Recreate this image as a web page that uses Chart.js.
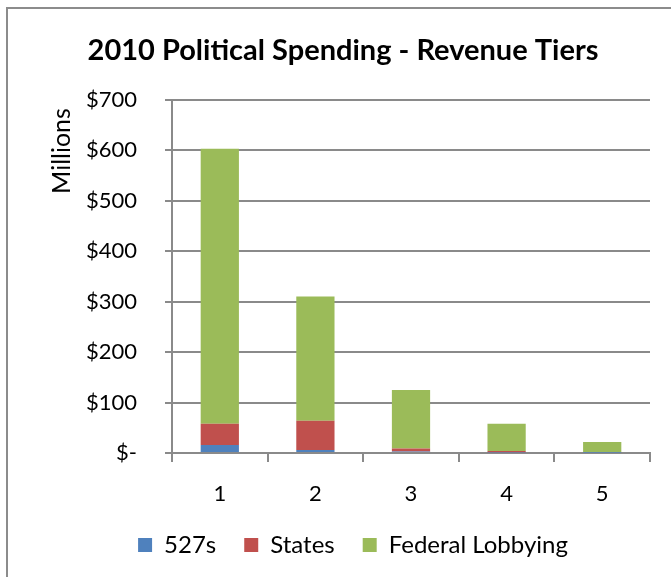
<!DOCTYPE html>
<html>
<head>
<meta charset="utf-8">
<script src="https://cdn.jsdelivr.net/npm/chart.js@4"></script>
<style>
  html, body { margin: 0; padding: 0; background: #fff; }
  #wrap { position: relative; width: 671px; height: 577px; overflow: hidden; }
  #frame { position: absolute; left: 6px; top: 7px; width: 700px; height: 600px;
           border-top: 2px solid #8c8c8c; border-left: 2px solid #8c8c8c; }
  canvas { position: absolute; left: 0; top: 0; }
</style>
</head>
<body>
<div id="wrap">
  <div id="frame"></div>
  <canvas id="chart" width="671" height="577"></canvas>
</div>
<script>
// --- data (millions of $) ---
const tiers = ["1", "2", "3", "4", "5"];
const spend527s = [16, 6, 3, 1, 0.4];
const spendStates = [42, 58, 6, 3, 0.6];
const spendFederal = [545, 246, 116, 54, 21];
const yTicks = [0, 100, 200, 300, 400, 500, 600, 700];

const FONT = "Lato, 'Open Sans', sans-serif";
const gridGray = "#8a8a8a";

function money(v) {
  return v === 0 ? "$-" : "$" + v;
}

// "Millions" display-unit label, placed near top like Excel
const unitLabel = {
  id: "unitLabel",
  afterDraw(chart) {
    const ctx = chart.ctx;
    ctx.save();
    ctx.translate(62, 151);
    ctx.rotate(-Math.PI / 2);
    ctx.font = "25px " + FONT;
    ctx.fillStyle = "#000";
    ctx.textAlign = "center";
    ctx.textBaseline = "middle";
    ctx.fillText("Millions", 0, 0);
    ctx.restore();
  }
};

// nudge title and legend sideways (Excel centres them differently)
const nudgeBoxes = {
  id: "nudgeBoxes",
  afterLayout(chart) {
    chart.titleBlock.left += 18;
    chart.titleBlock.right += 18;
    chart.legend.left += 28;
    chart.legend.right += 28;
  }
};

const ctx = document.getElementById("chart").getContext("2d");
new Chart(ctx, {
  type: "bar",
  data: {
    labels: tiers,
    datasets: [
      { label: "527s", data: spend527s, backgroundColor: "#4f81bd" },
      { label: "States", data: spendStates, backgroundColor: "#c0504d" },
      { label: "Federal Lobbying", data: spendFederal, backgroundColor: "#9bbb59" }
    ]
  },
  options: {
    responsive: false,
    animation: false,
    layout: { padding: { left: 0, right: 21, top: 0, bottom: 10 } },
    datasets: { bar: { categoryPercentage: 0.4, barPercentage: 1 } },
    scales: {
      x: {
        stacked: true,
        grid: { display: true, drawOnChartArea: false, offset: true,
                color: gridGray, lineWidth: 2, tickLength: 9 },
        border: { color: gridGray, width: 2 },
        ticks: { color: "#000", font: { family: FONT, size: 22 }, padding: 19 },
        afterFit(scale) { scale.height = 52; }
      },
      y: {
        stacked: true,
        min: 0,
        max: 700,
        afterBuildTicks(scale) { scale.ticks = yTicks.map(v => ({ value: v })); },
        grid: { color: gridGray, lineWidth: 2, tickLength: 7 },
        border: { color: gridGray, width: 2 },
        ticks: {
          color: "#000",
          font: { family: FONT, size: 22 },
          padding: 28,
          callback: v => money(v)
        },
        afterFit(scale) { scale.width = 172; }
      }
    },
    plugins: {
      title: {
        display: true,
        text: "2010 Political Spending - Revenue Tiers",
        color: "#000",
        font: { family: FONT, size: 29, weight: "bold" },
        padding: { top: 33, bottom: 32 }
      },
      legend: {
        position: "bottom",
        labels: {
          color: "#000",
          font: { family: FONT, size: 24 },
          boxWidth: 14,
          boxHeight: 14,
          padding: 28
        }
      },
      tooltip: { enabled: false }
    }
  },
  plugins: [unitLabel, nudgeBoxes]
});
</script>
</body>
</html>
